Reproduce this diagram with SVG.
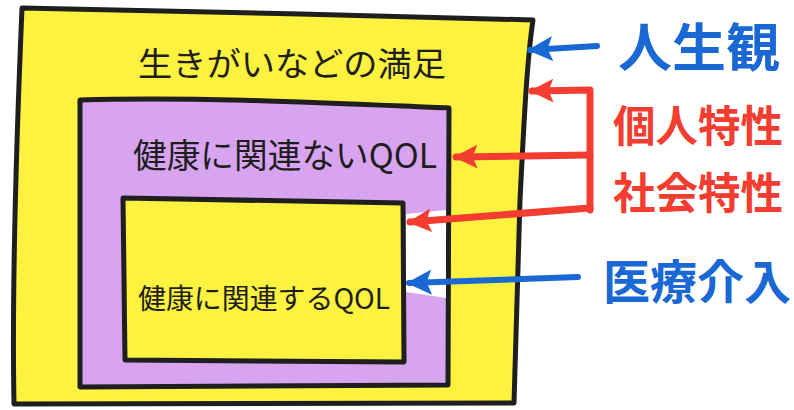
<svg xmlns="http://www.w3.org/2000/svg" width="794" height="410" viewBox="0 0 794 410">
  <style>
    .box { stroke: #1f1f1f; stroke-width: 5; stroke-linejoin: round; }
    .yellow { fill: #fcf23f; }
    .purple { fill: #d8a4ef; }
    .t { font-family: "Noto Sans CJK JP", "Noto Sans", sans-serif; fill: #1e1e1e; }
    .lbl { font-family: "Noto Sans CJK JP", "Noto Sans", sans-serif; font-weight: 700; }
    .blue { fill: #1a68d4; }
    .red { fill: #f23d30; }
    .cb { stroke: #1a68d4; stroke-width: 6; fill: none; stroke-linecap: round; stroke-linejoin: round; }
    .cr { stroke: #f23d30; stroke-width: 7; fill: none; stroke-linecap: round; stroke-linejoin: round; }
  </style>
  <defs>
    <marker id="ahb" viewBox="0 0 10 10" refX="9" refY="5" markerWidth="4.2" markerHeight="4.8" orient="auto" markerUnits="strokeWidth">
      <path d="M0,0 L10,5 L0,10 L2,5 Z" fill="#1a68d4"/>
    </marker>
    <marker id="ahr" viewBox="0 0 10 10" refX="9" refY="5" markerWidth="3.4" markerHeight="4" orient="auto" markerUnits="strokeWidth">
      <path d="M0,0 L10,5 L0,10 L2,5 Z" fill="#f23d30"/>
    </marker>
  </defs>
  <rect width="794" height="410" fill="#ffffff"/>

  <g id="outer">
    <path class="box yellow" d="M22,8 L300,14 L533,20 C527,60 524,120 520,200 L514,403 L14,404 C12,300 16,150 22,8 Z"/>
    <text class="t" x="138" y="76" font-size="33" textLength="308" lengthAdjust="spacingAndGlyphs">生きがいなどの満足</text>
  </g>

  <g id="middle">
    <path class="box purple" d="M80,100 C200,96 350,104 449,108 L448,385 L80,387 Z"/>
    <path d="M406,214 L446,210 L446,298 L406,292 Z" fill="#ffffff"/>
    <text class="t" x="133" y="168" font-size="34" textLength="304" lengthAdjust="spacingAndGlyphs">健康に関連ないQOL</text>
  </g>

  <g id="inner">
    <path class="box yellow" d="M123,198 L403,203 L404,362 L125,360 Z"/>
    <text class="t" x="138" y="309" font-size="28" textLength="252" lengthAdjust="spacingAndGlyphs">健康に関連するQOL</text>
  </g>

  <g id="jinseikan">
    <text class="lbl blue" x="618" y="67" font-size="52" textLength="162" lengthAdjust="spacingAndGlyphs">人生観</text>
  </g>
  <g id="kojin">
    <text class="lbl red" x="613" y="142" font-size="43" textLength="170" lengthAdjust="spacingAndGlyphs">個人特性</text>
  </g>
  <g id="shakai">
    <text class="lbl red" x="613" y="209" font-size="43" textLength="170" lengthAdjust="spacingAndGlyphs">社会特性</text>
  </g>
  <g id="iryo">
    <text class="lbl blue" x="603" y="299" font-size="47" textLength="188" lengthAdjust="spacingAndGlyphs">医療介入</text>
  </g>

  <g id="connectors">
    <path class="cb" d="M597,46 L530,50" marker-end="url(#ahb)"/>
    <path class="cr" d="M590,210 L590,90 L532,91" marker-end="url(#ahr)"/>
    <path class="cr" d="M590,155 L456,157" marker-end="url(#ahr)"/>
    <path class="cr" d="M590,208 L410,222" marker-end="url(#ahr)"/>
    <path class="cb" d="M578,277 L409,283" marker-end="url(#ahb)"/>
  </g>
</svg>
